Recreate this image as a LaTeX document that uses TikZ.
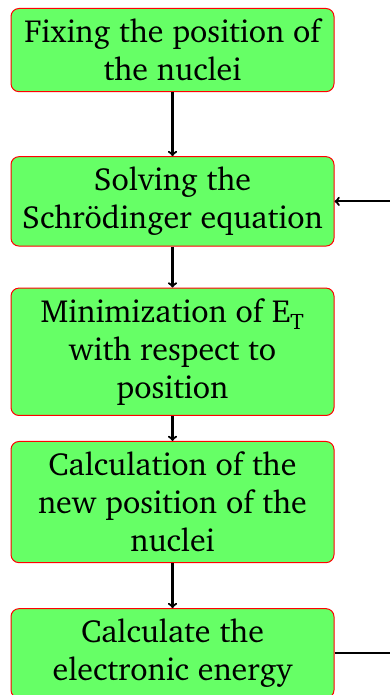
\documentclass[tikz,border=0pt]{standalone}
\usepackage[T1]{fontenc}
\usepackage{charter}
\usepackage{tikz}
\usetikzlibrary{positioning}
\definecolor{boxgreen}{RGB}{102,255,102}

\begin{document}
\begin{tikzpicture}[
  x=1pt, y=1pt,
  every node/.style={font=\fontsize{32}{38}\selectfont, align=center},
  stage/.style={draw=red, fill=boxgreen, line width=1pt, rounded corners=8pt, minimum width=323pt, inner xsep=10pt, inner ysep=10.5pt},
  arrow/.style={->, line width=2.2pt, black}
]
  \useasboundingbox (0,0) rectangle (390,-695);
  \clip (0,0) rectangle (390,-695);
  % Nodes
  \node (fix) [stage, anchor=north] at (172.5,-8) {Fixing the position of\\the nuclei};
  \node (solve) [stage, below=64pt of fix] {Solving the\\Schr\"odinger equation};
  \node (mini) [stage, below=41pt of solve] {Minimization of E\textsubscript{T}\\with respect to\\position};
  \node (newpos) [stage, below=25pt of mini] {Calculation of the\\new position of the\\nuclei};
  \node (energy) [stage, below=45pt of newpos] {Calculate the\\electronic energy};

  % Paths
  \draw [arrow] (fix) -- (solve);
  \draw [arrow] (solve) -- (mini);
  \draw [arrow] (mini) -- (newpos);
  \draw [arrow] (newpos) -- (energy);
  \draw [arrow] (energy.east) -- ++(80,0) |- (solve.east);
\end{tikzpicture}
\end{document}
